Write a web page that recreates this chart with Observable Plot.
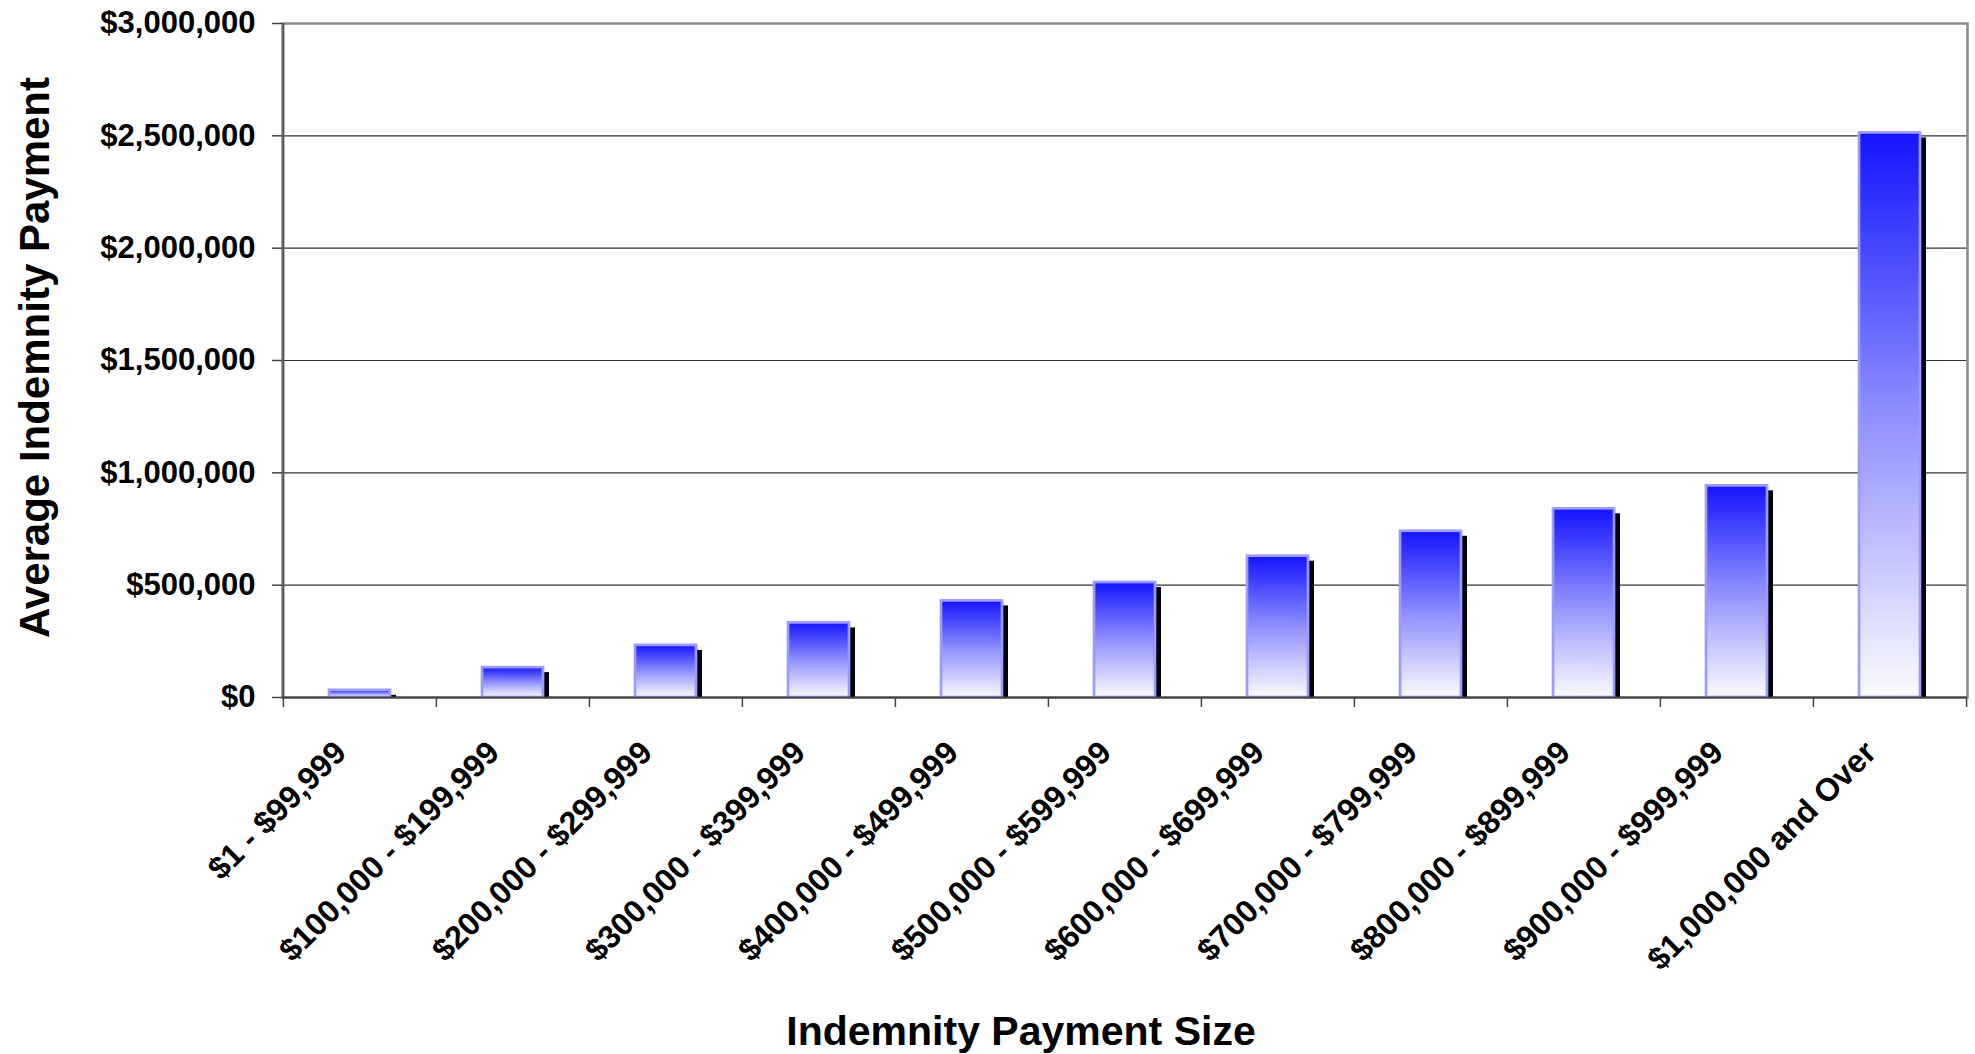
<!DOCTYPE html>
<html>
<head>
<meta charset="utf-8">
<script src="https://cdn.jsdelivr.net/npm/d3@7"></script>
<script src="https://cdn.jsdelivr.net/npm/@observablehq/plot@0.6"></script>
<style>
  html, body { margin: 0; padding: 0; background: #ffffff; }
  #chart { width: 1975px; height: 1054px; }
</style>
</head>
<body>
<div id="chart"></div>
<script>
// ---- Data ----
const categories = [
  "$1 - $99,999",
  "$100,000 - $199,999",
  "$200,000 - $299,999",
  "$300,000 - $399,999",
  "$400,000 - $499,999",
  "$500,000 - $599,999",
  "$600,000 - $699,999",
  "$700,000 - $799,999",
  "$800,000 - $899,999",
  "$900,000 - $999,999",
  "$1,000,000 and Over"
];
const values = [32000, 133000, 232000, 332000, 430000, 512000, 629000, 740000, 840000, 942000, 2513000];
const yTicks = [0, 500000, 1000000, 1500000, 2000000, 2500000, 3000000];
const yTickLabels = ["$0", "$500,000", "$1,000,000", "$1,500,000", "$2,000,000", "$2,500,000", "$3,000,000"];
const yTitle = "Average Indemnity Payment";
const xTitle = "Indemnity Payment Size";

// ---- Layout ----
const W = 1975, H = 1054;
const mL = 282, mR = 8, mT = 23, mB = 357;
const step = (W - mL - mR) / categories.length;
const font = "'Liberation Sans', Arial, Helvetica, sans-serif";

const rows = categories.map((c, i) => ({category: c, value: values[i]}));

const chart = Plot.plot({
  width: W,
  height: H,
  marginLeft: mL,
  marginRight: mR,
  marginTop: mT,
  marginBottom: mB,
  style: {fontFamily: font, fontWeight: "bold", background: "#ffffff", color: "#000"},
  x: {domain: categories, paddingInner: 0.6, paddingOuter: 0.3, axis: null, label: null},
  y: {domain: [0, 3000000], axis: null, label: null},
  marks: [
    Plot.gridY(yTicks, {stroke: "#333", strokeOpacity: 1, strokeWidth: 1.1}),
    Plot.frame({stroke: "#8a8a8a", strokeWidth: 2.5}),
    // left axis line (darker)
    Plot.ruleX([categories[0]], {x: d => d, dx: -step / 2, stroke: "#555", strokeWidth: 2}),
    // bar shadows
    Plot.barY(rows, {x: "category", y: "value", fill: "#000", dx: 6, insetTop: 5}),
    // bars
    Plot.barY(rows, {x: "category", y: "value", fill: "url(#barGrad)", stroke: "#9c9cff", strokeWidth: 2.7}),
    // bottom axis line
    Plot.ruleY([0], {stroke: "#444", strokeWidth: 2}),
    // x ticks at category boundaries
    Plot.ruleX(categories, {x: d => d, dx: -step / 2, y1: 0, y2: 0, insetBottom: -10, stroke: "#444", strokeWidth: 1.5}),
    Plot.ruleX([categories[categories.length - 1]], {x: d => d, dx: step / 2, y1: 0, y2: 0, insetBottom: -10, stroke: "#444", strokeWidth: 1.5}),
    // y axis
    Plot.axisY(yTicks, {
      tickFormat: d => yTickLabels[yTicks.indexOf(d)],
      tickSize: 10,
      tickPadding: 17,
      fontSize: 31,
      fontWeight: "bold",
      stroke: "#444",
      strokeWidth: 1.5,
      label: null
    }),
    // x tick labels
    Plot.text(categories, {
      x: d => d,
      frameAnchor: "bottom",
      rotate: -45,
      textAnchor: "end",
      lineAnchor: "bottom",
      dx: -12,
      dy: 57,
      fontSize: 32,
      fontWeight: "bold",
      fill: "#000"
    }),
    // axis titles
    Plot.text([yTitle], {
      frameAnchor: "left",
      textAnchor: "middle",
      rotate: -90,
      dx: -247,
      dy: -3,
      fontSize: 42,
      fontWeight: "bold",
      fill: "#000"
    }),
    Plot.text([xTitle], {
      frameAnchor: "bottom",
      textAnchor: "middle",
      lineAnchor: "bottom",
      dx: -104,
      dy: 347,
      fontSize: 41,
      fontWeight: "bold",
      fill: "#000"
    })
  ]
});

const ns = "http://www.w3.org/2000/svg";
const defs = document.createElementNS(ns, "defs");
defs.innerHTML = '<linearGradient id="barGrad" x1="0" y1="0" x2="0" y2="1">' +
  '<stop offset="0" stop-color="#1414ff"/>' +
  '<stop offset="0.5" stop-color="#8f8fff"/>' +
  '<stop offset="1" stop-color="#fbfbff"/>' +
  '</linearGradient>';
chart.insertBefore(defs, chart.firstChild);

document.getElementById("chart").appendChild(chart);
</script>
</body>
</html>
